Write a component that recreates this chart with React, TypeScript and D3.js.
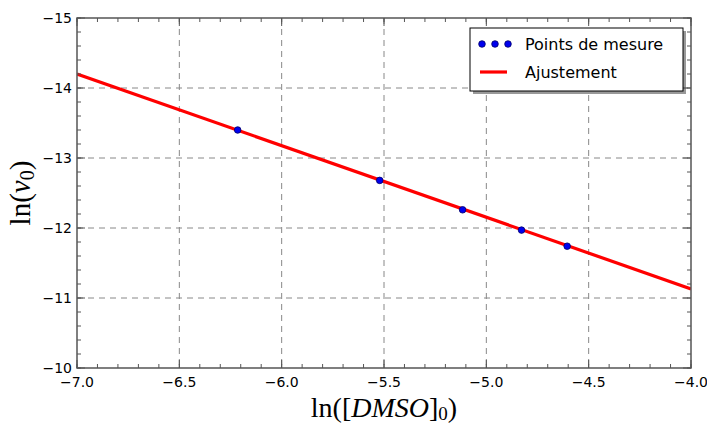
import React from "react";
import * as d3 from "d3";

// Measured points: ln([DMSO]0) vs ln(v0)
const lnDmso = [-6.215, -5.521, -5.116, -4.828, -4.605];
const lnV0 = [-13.40, -12.68, -12.26, -11.97, -11.74];

// Linear fit endpoints over the plotted range
const fitX = [-7.0, -4.0];
const fitY = [-14.2, -11.13];

const xTicks = [-7.0, -6.5, -6.0, -5.5, -5.0, -4.5, -4.0];
const yTicks = [-15, -14, -13, -12, -11, -10];

const W = 707;
const H = 426;
const M = { left: 77, right: 691, top: 18, bottom: 368 };

const fmtMinus = (s: string) => s.replace("-", "\u2212");

export default function App() {
  const x = d3.scaleLinear().domain([-7, -4]).range([M.left, M.right]);
  const y = d3.scaleLinear().domain([-15, -10]).range([M.top, M.bottom]);

  const xMinor = d3.range(-70, -39).map((v) => v / 10);
  const yMinor = d3.range(-75, -49).map((v) => v / 5);

  const line = d3
    .line<number>()
    .x((_, i) => x(fitX[i]))
    .y((d) => y(d));

  const axisColor = "#555";
  const tickFont = "DejaVu Sans, sans-serif";
  const mathFont = "'Liberation Serif', 'DejaVu Serif', serif";

  const lx = 470;
  const ly = 28;
  const lw = 213;
  const lh = 63;

  return (
    <svg
      width={W}
      height={H}
      style={{ position: "absolute", left: 0, top: 0, background: "#fff" }}
    >
      <defs>
        <clipPath id="plot">
          <rect x={M.left} y={M.top} width={M.right - M.left} height={M.bottom - M.top} />
        </clipPath>
      </defs>
      <rect x={0} y={0} width={W} height={H} fill="#fff" />

      {/* grid */}
      <g stroke="#888" strokeWidth={1} strokeDasharray="6,5">
        {xTicks.slice(1, -1).map((t) => (
          <line key={"gx" + t} x1={x(t)} x2={x(t)} y1={M.top} y2={M.bottom} />
        ))}
        {yTicks.slice(1, -1).map((t) => (
          <line key={"gy" + t} x1={M.left} x2={M.right} y1={y(t)} y2={y(t)} />
        ))}
      </g>

      {/* fit line and points */}
      <g clipPath="url(#plot)">
        <path d={line(fitY) || ""} fill="none" stroke="#ff0000" strokeWidth={3.2} />
        {lnDmso.map((v, i) => (
          <circle
            key={"p" + i}
            cx={x(v)}
            cy={y(lnV0[i])}
            r={3.3}
            fill="#0000ee"
            stroke="#000066"
            strokeWidth={0.8}
          />
        ))}
      </g>

      {/* ticks, inward on all four sides */}
      <g stroke={axisColor} strokeWidth={1}>
        {xMinor.map((t) => (
          <g key={"xm" + t}>
            <line x1={x(t)} x2={x(t)} y1={M.bottom} y2={M.bottom - 4} />
            <line x1={x(t)} x2={x(t)} y1={M.top} y2={M.top + 4} />
          </g>
        ))}
        {xTicks.map((t) => (
          <g key={"xM" + t}>
            <line x1={x(t)} x2={x(t)} y1={M.bottom} y2={M.bottom - 8} />
            <line x1={x(t)} x2={x(t)} y1={M.top} y2={M.top + 8} />
          </g>
        ))}
        {yMinor.map((t) => (
          <g key={"ym" + t}>
            <line x1={M.left} x2={M.left + 4} y1={y(t)} y2={y(t)} />
            <line x1={M.right} x2={M.right - 4} y1={y(t)} y2={y(t)} />
          </g>
        ))}
        {yTicks.map((t) => (
          <g key={"yM" + t}>
            <line x1={M.left} x2={M.left + 8} y1={y(t)} y2={y(t)} />
            <line x1={M.right} x2={M.right - 8} y1={y(t)} y2={y(t)} />
          </g>
        ))}
      </g>

      {/* frame */}
      <rect
        x={M.left}
        y={M.top}
        width={M.right - M.left}
        height={M.bottom - M.top}
        fill="none"
        stroke={axisColor}
        strokeWidth={1.5}
      />

      {/* tick labels */}
      <g fontFamily={tickFont} fontSize={14} fill="#000">
        {xTicks.map((t) => (
          <text key={"xl" + t} x={x(t)} y={M.bottom + 19} textAnchor="middle">
            {fmtMinus(t.toFixed(1))}
          </text>
        ))}
        {yTicks.map((t) => (
          <text key={"yl" + t} x={M.left - 5} y={y(t) + 5} textAnchor="end">
            {fmtMinus(String(t))}
          </text>
        ))}
      </g>

      {/* axis titles */}
      <text
        x={384}
        y={417}
        textAnchor="middle"
        fontFamily={mathFont}
        fontSize={28}
        fill="#000"
      >
        ln([<tspan fontStyle="italic">DMSO</tspan>]
        <tspan fontSize={19} dy={3}>0</tspan>
        <tspan dy={-3}>)</tspan>
      </text>
      <text
        transform={`translate(30, ${(M.top + M.bottom) / 2}) rotate(-90)`}
        textAnchor="middle"
        fontFamily={mathFont}
        fontSize={29}
        fill="#000"
      >
        ln(<tspan fontStyle="italic">v</tspan>
        <tspan fontSize={20} dy={4}>0</tspan>
        <tspan dy={-4}>)</tspan>
      </text>

      {/* legend */}
      <rect x={lx + 3} y={ly + 3} width={lw} height={lh} fill="#555" opacity={0.6} />
      <rect x={lx} y={ly} width={lw} height={lh} fill="#fff" stroke="#000" strokeWidth={1} />
      {[0, 1, 2].map((i) => (
        <circle
          key={"lg" + i}
          cx={lx + 12 + i * 13}
          cy={ly + 16}
          r={3.3}
          fill="#0000ee"
          stroke="#000066"
          strokeWidth={0.8}
        />
      ))}
      <line
        x1={lx + 10}
        x2={lx + 37}
        y1={ly + 44}
        y2={ly + 44}
        stroke="#ff0000"
        strokeWidth={3.2}
      />
      <g fontFamily={tickFont} fontSize={16} fill="#000">
        <text x={lx + 55} y={ly + 22}>Points de mesure</text>
        <text x={lx + 55} y={ly + 50}>Ajustement</text>
      </g>
    </svg>
  );
}
